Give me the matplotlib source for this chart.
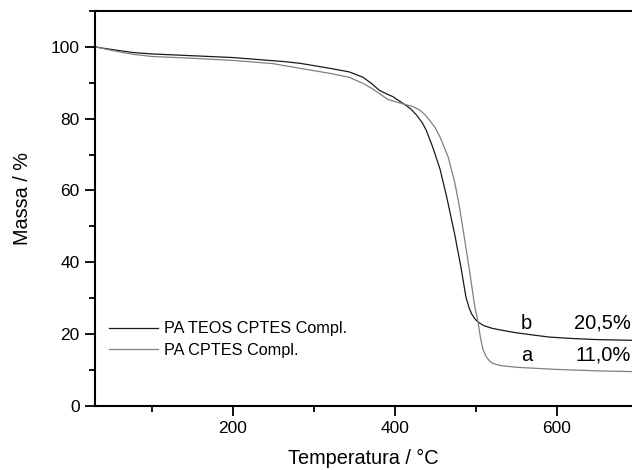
import matplotlib
matplotlib.use("Agg")
import matplotlib.pyplot as plt
from matplotlib.ticker import MultipleLocator

plt.rcParams['font.family'] = ['Liberation Sans', 'DejaVu Sans']

# curva b - PA TEOS CPTES Compl. (preta)
temp_b = [30, 40, 55, 77, 100, 150, 200, 262, 283, 320, 344, 361, 372, 381, 390, 398, 412,
          420, 427, 434, 439, 447, 456, 464, 474, 482, 488, 492, 495, 499, 503, 510,
          521, 535, 550, 570, 591, 620, 650, 693]
massa_b = [100, 99.6, 99.1, 98.4, 98.0, 97.5, 97.0, 95.9, 95.4, 94.0, 93.0, 91.5, 89.7, 87.9, 86.9, 86.1, 84.0,
           82.7, 81.0, 78.9, 76.8, 72.1, 66.0, 58.5, 48.0, 38.5, 30.4, 27.3, 25.7, 24.3, 23.4, 22.4,
           21.6, 21.0, 20.4, 19.8, 19.2, 18.8, 18.5, 18.3]

# curva a - PA CPTES Compl. (cinza)
temp_a = [30, 40, 55, 77, 100, 150, 200, 250, 283, 320, 344, 361, 372, 381, 392, 412,
          422, 431, 437, 443, 450, 456, 466, 474, 480, 486, 493, 499, 503, 506, 509, 513,
          517, 521, 530, 550, 600, 650, 693]
massa_a = [100, 99.5, 98.8, 97.9, 97.3, 96.8, 96.2, 95.3, 94.0, 92.6, 91.5, 89.8, 88.4, 87.0, 85.3, 84.0,
           83.4, 82.4, 81.2, 79.6, 77.5, 74.9, 69.4, 62.5, 55.5, 47.0, 36.9, 27.6, 23.4, 19.0, 15.8, 13.8,
           12.6, 11.9, 11.3, 10.8, 10.2, 9.8, 9.6]

fig = plt.figure(figsize=(6.32, 4.70), dpi=100)
ax = fig.add_axes([0.150, 0.136, 0.850, 0.841])

ax.plot(temp_b, massa_b, color='#1a1a1a', lw=0.9, label='PA TEOS CPTES Compl.')
ax.plot(temp_a, massa_a, color='#808080', lw=0.9, label='PA CPTES Compl.')

ax.set_xlim(30, 693)
ax.set_ylim(0, 110)
ax.xaxis.set_major_locator(MultipleLocator(200))
ax.xaxis.set_minor_locator(MultipleLocator(100))
ax.yaxis.set_major_locator(MultipleLocator(20))
ax.yaxis.set_minor_locator(MultipleLocator(10))
ax.tick_params(which='major', direction='out', length=7, width=1.3, labelsize=12.5, pad=4)
ax.tick_params(which='minor', direction='out', length=4, width=1.3)
ax.tick_params(top=False, right=False)
for s in ['left', 'bottom', 'top']:
    ax.spines[s].set_linewidth(1.5)
ax.spines['right'].set_visible(False)

ax.set_xlabel('Temperatura / °C', fontsize=14.3, labelpad=9)
ax.set_ylabel('Massa / %', fontsize=14.3)
ax.yaxis.set_label_coords(-0.117, 0.524)

ax.text(563, 23.0, 'b', fontsize=14.5, ha='center', va='center')
ax.text(563, 14.1, 'a', fontsize=14.5, ha='center', va='center')
ax.text(692, 23.0, '20,5%', fontsize=14.5, ha='right', va='center')
ax.text(692, 14.1, '11,0%', fontsize=14.5, ha='right', va='center')

ax.legend(loc='lower left', bbox_to_anchor=(0.0, 0.085), frameon=False, fontsize=11.7,
          handlelength=3.0, handletextpad=0.35, labelspacing=0.4)

fig.savefig('out.png', dpi=100)
